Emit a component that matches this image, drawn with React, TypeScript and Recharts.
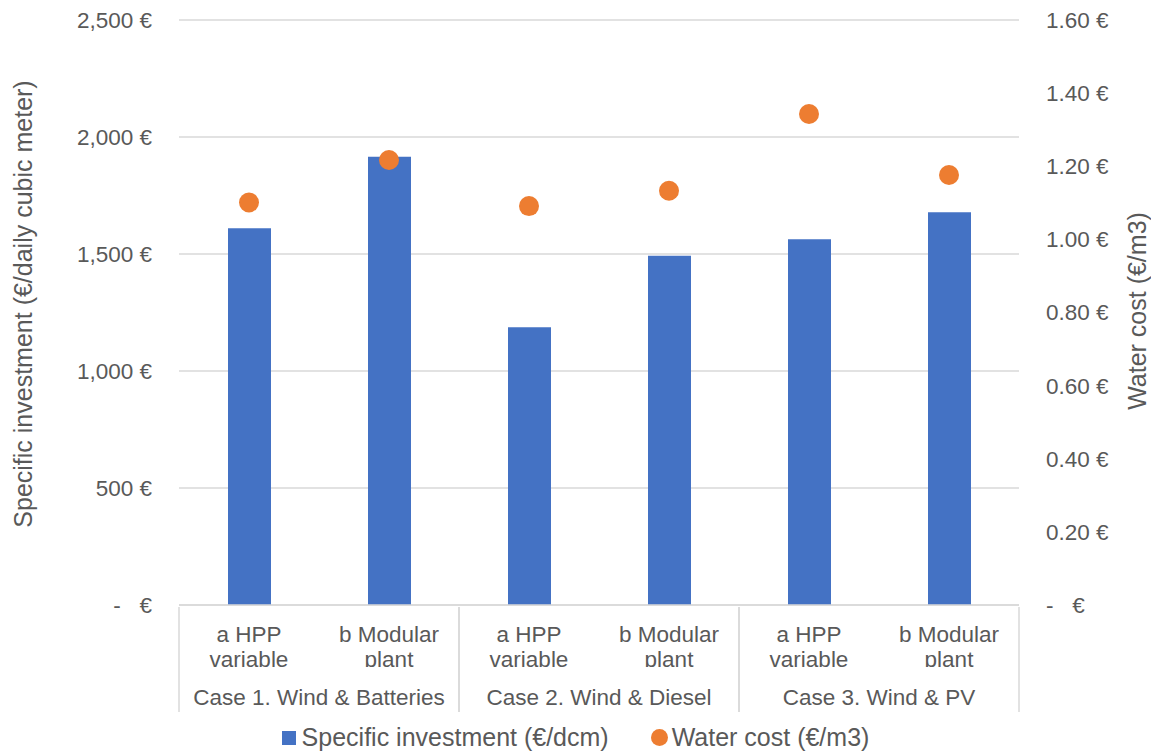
import React from 'react';
import {
  ComposedChart, Bar, Line, XAxis, YAxis, CartesianGrid, Legend
} from 'recharts';

const cases = ['Case 1. Wind & Batteries', 'Case 2. Wind & Diesel', 'Case 3. Wind & PV'];
const options = [['a HPP', 'variable'], ['b Modular', 'plant']];

// €/daily cubic meter, in case/option order
const specificInvestment = [1610, 1916, 1187, 1493, 1563, 1678];
// €/m3
const waterCost = [1.101, 1.217, 1.091, 1.133, 1.343, 1.176];

const leftTicks = [0, 500, 1000, 1500, 2000, 2500];
const rightTicks = [0, 0.2, 0.4, 0.6, 0.8, 1.0, 1.2, 1.4, 1.6];

const FONT = '"Liberation Sans", Arial, sans-serif';
const TEXT = '#595959';
const GRID = '#d9d9d9';
const BLUE = '#4472C4';
const ORANGE = '#ED7D31';

const rows = cases.flatMap((c, ci) =>
  options.map((o, oi) => {
    const i = ci * options.length + oi;
    return {
      key: `c${ci}o${oi}`,
      lines: o,
      group: c,
      first: oi === 0,
      last: oi === options.length - 1,
      investment: specificInvestment[i],
      water: waterCost[i],
    };
  })
);

const fmtLeft = (v: number) => (v === 0 ? '-\u00a0\u00a0\u00a0€' : `${v.toLocaleString('en-US')} €`);
const fmtRight = (v: number) => (v === 0 ? '-\u00a0\u00a0\u00a0€' : `${v.toFixed(2)} €`);

// two-line option label, with the case name and box separators under each first/last option
const CategoryTick = (props: any) => {
  const { x, y, payload, index } = props;
  const row = rows[index ?? payload.index];
  if (!row) return null;
  const half = payload.offset || 70;
  const clipId = `tick-clip-${index}`;
  return (
    <g>
      <defs>
        <clipPath id={clipId}>
          <rect x={x - half} y={y} width={half * 2} height={60} />
        </clipPath>
      </defs>
      <g clipPath={`url(#${clipId})`}>
        {row.lines.map((t: string, i: number) => (
          <text key={i} x={x} y={y + 27 + i * 25} textAnchor="middle" dominantBaseline="central"
            fill={TEXT} fontSize={22.5} fontFamily={FONT}>{t}</text>
        ))}
      </g>
      {row.first && (
        <>
          <line x1={x - half} x2={x - half} y1={y} y2={y + 105} stroke={GRID} strokeWidth={1.5} />
          <text x={x + half} y={y + 90} textAnchor="middle" dominantBaseline="central"
            fill={TEXT} fontSize={22.5} fontFamily={FONT}>{row.group}</text>
        </>
      )}
      {row.last && (
        <line x1={x + half} x2={x + half} y1={y} y2={y + 105} stroke={GRID} strokeWidth={1.5} />
      )}
    </g>
  );
};

const LegendContent = () => (
  <div style={{
    display: 'flex', justifyContent: 'center', alignItems: 'center', height: 43,
    paddingTop: 12, boxSizing: 'border-box', fontFamily: FONT, fontSize: 25, color: TEXT,
  }}>
    <span style={{ display: 'inline-block', width: 14, height: 14, background: BLUE, marginRight: 6 }} />
    <span style={{ marginRight: 42 }}>Specific investment (€/dcm)</span>
    <span style={{ display: 'inline-block', width: 17, height: 17, borderRadius: '50%', background: ORANGE, marginRight: 4 }} />
    <span>Water cost (€/m3)</span>
  </div>
);

export default function App() {
  return (
    <div style={{ position: 'absolute', left: 0, top: 0, background: '#fff' }}>
      <ComposedChart width={1151} height={753} data={rows}
        margin={{ top: 20, right: 0, bottom: 0, left: 0 }}>
        <CartesianGrid yAxisId="left" vertical={false} stroke={GRID} strokeWidth={1.5} />
        <XAxis dataKey="key" height={105} interval={0} tickLine={false} tickSize={0}
          axisLine={{ stroke: GRID, strokeWidth: 1.5 }} tick={<CategoryTick />} />
        <YAxis yAxisId="left" width={179} domain={[0, 2500]} ticks={leftTicks}
          tickFormatter={fmtLeft} axisLine={false} tickLine={false} tickSize={0} tickMargin={27}
          tick={{ fill: TEXT, fontSize: 22.5, fontFamily: FONT }}
          label={{
            content: ({ viewBox }: any) => (
              <text x={viewBox.x + 23} y={304} transform={`rotate(-90, ${viewBox.x + 23}, 304)`}
                textAnchor="middle" dominantBaseline="central" fill={TEXT} fontSize={25} fontFamily={FONT}>
                Specific investment (€/daily cubic meter)
              </text>
            ),
          }} />
        <YAxis yAxisId="right" orientation="right" width={132} domain={[0, 1.6]} ticks={rightTicks}
          tickFormatter={fmtRight} axisLine={false} tickLine={false} tickSize={0} tickMargin={27}
          tick={{ fill: TEXT, fontSize: 22.5, fontFamily: FONT, textAnchor: 'start' }}
          label={{
            content: ({ viewBox }: any) => (
              <text x={viewBox.x + 118} y={311} transform={`rotate(-90, ${viewBox.x + 118}, 311)`}
                textAnchor="middle" dominantBaseline="central" fill={TEXT} fontSize={25} fontFamily={FONT}>
                Water cost (€/m3)
              </text>
            ),
          }} />
        <Legend verticalAlign="bottom" height={43} content={<LegendContent />} />
        <Bar yAxisId="left" dataKey="investment" fill={BLUE} barSize={43} isAnimationActive={false} />
        <Line yAxisId="right" dataKey="water" stroke="none" activeDot={false}
          dot={{ r: 10, fill: ORANGE, stroke: 'none' }} isAnimationActive={false} />
      </ComposedChart>
    </div>
  );
}
